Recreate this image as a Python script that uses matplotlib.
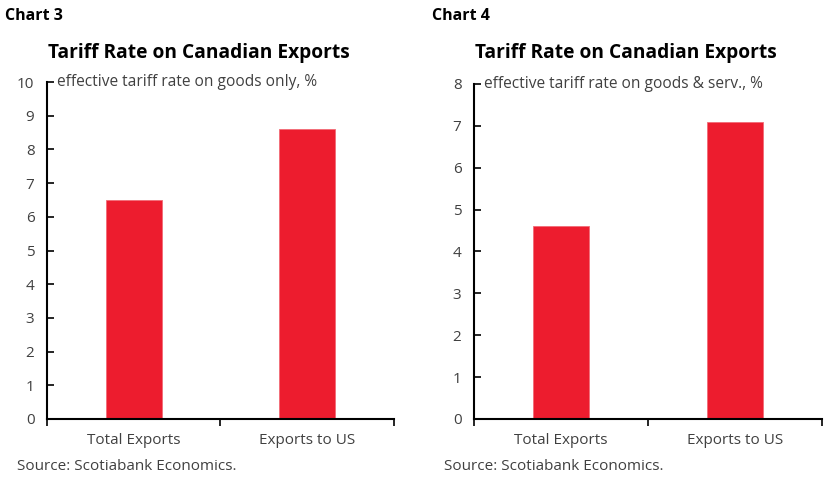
import numpy as np
import matplotlib as mpl
mpl.use('agg')
import matplotlib.pyplot as plt
from matplotlib.ticker import FixedLocator

plt.rcParams['font.family'] = ['Open Sans', 'DejaVu Sans']

# data
categories = ['Total Exports', 'Exports to US']
goods_only = [6.5, 8.6]
goods_serv = [4.6, 7.1]

panels = [
    # chart label, subtitle, values, ymax, axes rect
    ('Chart 3', 'effective tariff rate on goods only, %', goods_only, 10,
     [47/828, 64/483, 347/828, 337/483]),
    ('Chart 4', 'effective tariff rate on goods & serv., %', goods_serv, 8,
     [474/828, 64/483, 348/828, 335/483]),
]

RED = '#ed1c2e'
GREY = '#404040'

fig = plt.figure(figsize=(8.28, 4.83), dpi=100)

for label, sub, vals, ymax, rect in panels:
    ax = fig.add_axes(rect)
    x = np.arange(len(categories))
    ax.bar(x, vals, width=0.32, color=RED, edgecolor='#f26b76', linewidth=0.6)

    ax.set_xlim(-0.5, 1.5)
    ax.set_ylim(0, ymax)
    ax.set_yticks(range(0, ymax + 1))
    ax.set_xticks(x)
    ax.set_xticklabels(categories)
    ax.xaxis.set_minor_locator(FixedLocator([-0.5, 0.5, 1.5]))

    ax.tick_params(axis='y', direction='in', length=5, width=1.2, pad=9,
                   labelsize=11, labelcolor=GREY)
    ax.tick_params(axis='x', which='major', length=0, pad=10,
                   labelsize=11, labelcolor=GREY)
    ax.tick_params(axis='x', which='minor', direction='out', length=5, width=1.2)

    for s in ['top', 'right']:
        ax.spines[s].set_visible(False)
    for s in ['left', 'bottom']:
        ax.spines[s].set_linewidth(1.5)

    ax.text(0.03, 1.0, sub, transform=ax.transAxes, fontsize=11.2,
            color=GREY, va='center', ha='left')

    x0 = rect[0]
    fig.text(x0 - 42/828, 1 - 16/483, label, fontsize=11.5, fontweight='bold',
             va='center', ha='left')
    fig.text(x0 + 1/828, 1 - 53/483, 'Tariff Rate on Canadian Exports',
             fontsize=13.8, fontweight='bold', va='center', ha='left')
    fig.text(x0 - 30/828, 1 - 466/483, 'Source: Scotiabank Economics.',
             fontsize=11, color=GREY, va='center', ha='left')

plt.savefig('out.png', dpi=100)
plt.close()
